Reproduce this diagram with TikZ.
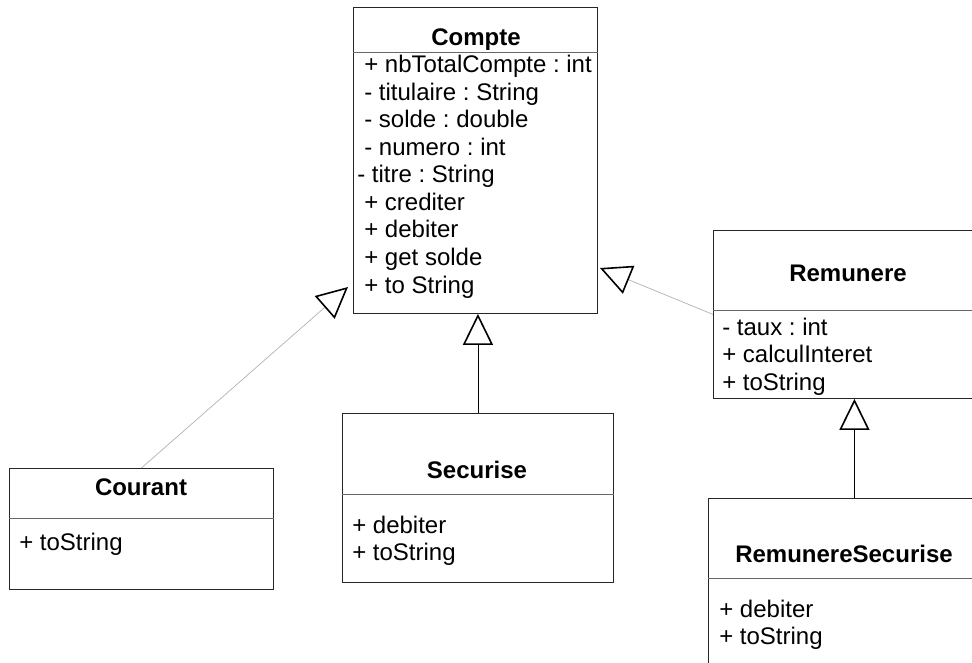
\documentclass[tikz,border=0pt]{standalone}
\usepackage{fontspec}
\setmainfont{Liberation Sans}
\usetikzlibrary{arrows.meta, positioning, calc}
\frenchspacing

\begin{document}
\begin{tikzpicture}
            [x=1pt, y=-1pt, semithick,
            classbox/.style={rectangle, draw=black!85, line width=0.9pt, anchor=north west, inner sep=0pt},
            divider/.style={draw=black!60, line width=0.9pt},
            classname/.style={font=\fontsize{24}{27}\selectfont\bfseries, anchor=base, inner sep=0pt},
            member/.style={font=\fontsize{24}{27}\selectfont, anchor=base west, inner sep=0pt},
            extends/.style={-{Triangle[open, length=31pt, width=30pt, line width=1.6pt, color=black]}},
            straight/.style={extends, draw=black, line width=0.9pt},
            slanted/.style={extends, draw=black!30, line width=0.7pt}]

            \useasboundingbox (0,0) rectangle (972,663);

            % class boxes
            \node[classbox, minimum width=244, minimum height=306] (compte) at (353,7) {};
            \node[classbox, minimum width=282, minimum height=168] (remunere) at (713,230) {};
            \node[classbox, minimum width=264, minimum height=121] (courant) at (9,468) {};
            \node[classbox, minimum width=271, minimum height=169] (securise) at (342,413) {};
            \node[classbox, minimum width=292, minimum height=200] (remsec) at (708,498) {};

            \draw[divider] (compte.west |- 0,52) -- (compte.east |- 0,52);
            \draw[divider] (remunere.west |- 0,310) -- (remunere.east |- 0,310);
            \draw[divider] (courant.west |- 0,518) -- (courant.east |- 0,518);
            \draw[divider] (securise.west |- 0,494) -- (securise.east |- 0,494);
            \draw[divider] (remsec.west |- 0,578) -- (remsec.east |- 0,578);

            % class names
            \node[classname] (compte-name) at (476,46) {Compte};
            \node[classname] (remunere-name) at (848,281) {Remunere};
            \node[classname] (courant-name) at (141,495) {Courant};
            \node[classname] (securise-name) at (477,478) {Securise};
            \node[classname] (remsec-name) at (844,562) {RemunereSecurise};

            % members
            \foreach \dx/\txt [count=\i from 0] in {364/{+ nbTotalCompte : int}, 364/{- titulaire : String},
                364/{- solde : double}, 364/{- numero : int}, 357/{- titre : String}, 364/{+ crediter},
                364/{+ debiter}, 364/{+ get solde}, 364/{+ to String}}
                \node[member] (compte-\i) at (\dx,73+27.5*\i) {\txt};

            \foreach \txt [count=\i from 0] in {{- taux : int}, {+ calculInteret}, {+ toString}}
                \node[member] (remunere-\i) at (722,335+27.5*\i) {\txt};

            \node[member] (courant-0) at (19,550) {+ toString};

            \foreach \txt [count=\i from 0] in {{+ debiter}, {+ toString}}
                \node[member] (securise-\i) at (352,533+27*\i) {\txt};

            \foreach \txt [count=\i from 0] in {{+ debiter}, {+ toString}}
                \node[member] (remsec-\i) at (719,617+27*\i) {\txt};

            % inheritance
            \coordinate (compte-sw) at (348,287);
            \coordinate (compte-se) at (600,268);

            \draw[slanted] (courant.north) -- (compte-sw);
            \draw[slanted] (remunere.west) -- (compte-se);
            \draw[straight] (securise.north) -- (securise.north |- compte.south);
            \draw[straight] (remsec.north) -- (remunere.south);

          \end{tikzpicture}
\end{document}
